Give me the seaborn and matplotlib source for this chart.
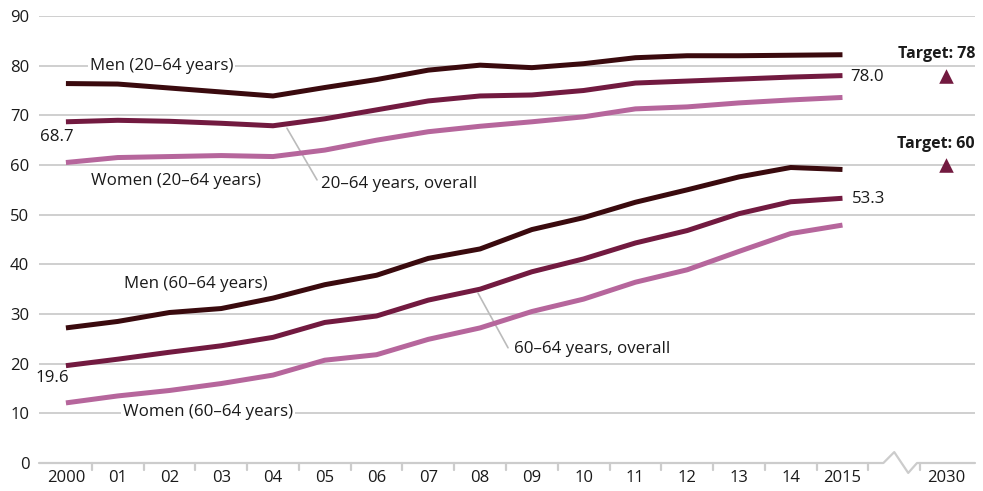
import numpy as np
import pandas as pd
import matplotlib
matplotlib.use("Agg")
import matplotlib.pyplot as plt
import seaborn as sns

# employment rates, percent
years = list(range(2000, 2016))
men_20_64 = [76.4, 76.3, 75.5, 74.7, 73.9, 75.6, 77.2, 79.1, 80.1, 79.6, 80.4, 81.6, 82.0, 82.0, 82.1, 82.2]
all_20_64 = [68.7, 69.0, 68.8, 68.4, 67.9, 69.3, 71.1, 72.9, 73.9, 74.1, 75.0, 76.5, 76.9, 77.3, 77.7, 78.0]
women_20_64 = [60.5, 61.5, 61.7, 61.9, 61.7, 63.0, 65.0, 66.7, 67.8, 68.7, 69.7, 71.3, 71.7, 72.5, 73.1, 73.6]
men_60_64 = [27.2, 28.5, 30.3, 31.1, 33.2, 35.9, 37.8, 41.2, 43.1, 47.0, 49.4, 52.5, 55.0, 57.6, 59.5, 59.1]
all_60_64 = [19.6, 20.9, 22.3, 23.6, 25.3, 28.3, 29.6, 32.8, 35.0, 38.5, 41.1, 44.3, 46.8, 50.2, 52.6, 53.3]
women_60_64 = [12.1, 13.5, 14.6, 16.0, 17.7, 20.7, 21.8, 24.9, 27.2, 30.5, 33.0, 36.4, 38.9, 42.6, 46.2, 47.9]

target_year = 2030
targets = [78, 60]
x_labels = ["2000"] + [f"{y % 100:02d}" for y in years[1:-1]] + ["2015", "2030"]

C_MEN = "#3a0a0e"
C_ALL = "#721a40"
C_WOMEN = "#b6669c"
GRID = "#cccccc"
TEXT = "#1a1a1a"

# x positions: one slot per year, then a gap (axis break) before 2030
pos = {y: i for i, y in enumerate(years)}
pos[target_year] = len(years) + 1
brk = len(years)

series = {
    "Men (20-64)": (men_20_64, C_MEN),
    "All (20-64)": (all_20_64, C_ALL),
    "Women (20-64)": (women_20_64, C_WOMEN),
    "Men (60-64)": (men_60_64, C_MEN),
    "All (60-64)": (all_60_64, C_ALL),
    "Women (60-64)": (women_60_64, C_WOMEN),
}
rows = []
for name, (vals, _) in series.items():
    for y, v in zip(years, vals):
        rows.append({"series": name, "x": pos[y], "value": v})
df = pd.DataFrame(rows)
palette = {name: c for name, (_, c) in series.items()}

sns.set_theme(style="white")
plt.rcParams["font.family"] = ["Open Sans", "DejaVu Sans"]

fig = plt.figure(figsize=(9.83, 4.91), dpi=100)
ax = fig.add_axes([39 / 983, 1 - 463 / 491, (975 - 39) / 983, (463 - 16) / 491])

# gridlines (zero line drawn separately with the break)
for v in range(10, 100, 10):
    ax.axhline(v, color=GRID, lw=1.3, zorder=0)
x0, x1 = -0.52, 17.56
ax.plot([x0, brk - 0.21, brk, brk + 0.27, brk + 0.44, x1], [0, 0, 2.2, -2.0, 0, 0],
        color=GRID, lw=1.6, clip_on=False, zorder=0)
for t in [i + 0.5 for i in range(len(years))] + [brk + 0.5]:
    ax.plot([t, t], [0, -1.5], color=GRID, lw=1.6, clip_on=False, zorder=0)

sns.lineplot(data=df, x="x", y="value", hue="series", palette=palette, lw=3.6,
             legend=False, ax=ax, zorder=3)
for line in ax.get_lines()[-6:]:
    line.set_solid_capstyle("butt")
    line.set_solid_joinstyle("round")
    line.set_clip_on(False)

ax.scatter([pos[target_year]] * len(targets), targets, marker="^", s=110, color=C_ALL,
           zorder=4, clip_on=False, linewidths=0)

ax.set_xlim(x0, x1)
ax.set_ylim(0, 90)
ax.set_xlabel("")
ax.set_ylabel("")
ax.set_yticks(range(0, 100, 10))
ax.set_yticklabels([str(v) for v in range(0, 100, 10)], fontsize=12, color=TEXT)
ax.set_xticks([pos[y] for y in years] + [pos[target_year]])
ax.set_xticklabels(x_labels, fontsize=12, color=TEXT)
ax.tick_params(axis="both", length=0)
ax.tick_params(axis="y", pad=7)
ax.tick_params(axis="x", pad=5)
for s in ax.spines.values():
    s.set_visible(False)

fs = 12.2
box = dict(facecolor="white", edgecolor="none", pad=1.5)
ax.text(0.46, 79.9, "Men (20–64 years)", fontsize=fs, color=TEXT, va="center", bbox=box, zorder=2)
ax.text(-0.5, all_20_64[0] - 3.1, f"{all_20_64[0]:.1f}", fontsize=fs, color=TEXT, va="center")
ax.text(0.48, 56.8, "Women (20–64 years)", fontsize=fs, color=TEXT, va="center")
ax.plot([4.27, 4.85], [67.4, 57.0], color="#bbbbbb", lw=1.2, zorder=2)
ax.text(4.93, 56.2, "20–64 years, overall", fontsize=fs, color=TEXT, va="center")
ax.text(15.15, all_20_64[-1] - 0.3, f"{all_20_64[-1]:.1f}", fontsize=fs, color=TEXT, va="center")
ax.text(15.19, all_60_64[-1] - 0.1, f"{all_60_64[-1]:.1f}", fontsize=fs, color=TEXT, va="center")
ax.text(1.12, 36.0, "Men (60–64 years)", fontsize=fs, color=TEXT, va="center")
ax.text(-0.58, all_60_64[0] - 2.5, f"{all_60_64[0]:.1f}", fontsize=fs, color=TEXT, va="center")
ax.text(1.10, 10.3, "Women (60–64 years)", fontsize=fs, color=TEXT, va="center", bbox=box, zorder=2)
ax.plot([7.96, 8.54], [34.2, 23.2], color="#bbbbbb", lw=1.2, zorder=2)
ax.text(8.66, 23.0, "60–64 years, overall", fontsize=fs, color=TEXT, va="center")
for t in targets:
    ax.text(x1, t + 4.3, f"Target: {t}", fontsize=11.5, fontweight="bold", color=TEXT,
            ha="right", va="center", bbox=box, zorder=2)

fig.savefig("out.png", dpi=100)
